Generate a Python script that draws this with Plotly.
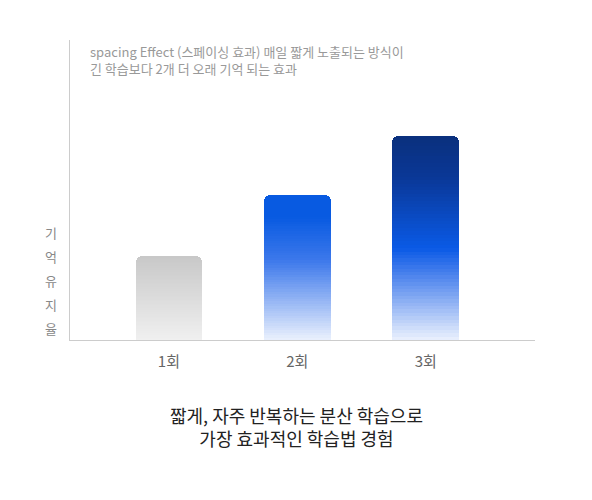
import plotly.graph_objects as go

categories = ["1회", "2회", "3회"]
values = [84, 145, 204]
title_lines = ["spacing Effect (스페이싱 효과) 매일 짧게 노출되는 방식이", "긴 학습보다 2개 더 오래 기억 되는 효과"]
caption_lines = ["짧게, 자주 반복하는 분산 학습으로", "가장 효과적인 학습법 경험"]
ylabel = "기억유지율"

stops = [
    [(0, (240, 240, 240)), (1, (200, 200, 200))],
    [(0, (235, 241, 253)), (0.55, (60, 120, 235)), (0.85, (8, 90, 225)), (1, (8, 90, 225))],
    [(0, (235, 241, 253)), (0.35, (60, 120, 235)), (0.45, (10, 90, 230)), (0.8, (10, 55, 150)), (1, (10, 48, 125))],
]

def col(st, f):
    for (f0, c0), (f1, c1) in zip(st[:-1], st[1:]):
        if f <= f1:
            t = (f - f0) / (f1 - f0) if f1 > f0 else 0
            return "rgb(%d,%d,%d)" % tuple(round(a + (b - a) * t) for a, b in zip(c0, c1))
    return "rgb(%d,%d,%d)" % st[-1][1]

N = 60
fig = go.Figure()
for k in range(N):
    f = (k + 0.5) / N
    fig.add_bar(x=list(range(len(categories))), y=[v / N for v in values],
                width=0.52, marker=dict(color=[col(stops[i], f) for i in range(3)], line=dict(width=0)),
                showlegend=False, hoverinfo="skip")

fig.update_layout(
    barmode="stack", barcornerradius=6, bargap=0,
    width=592, height=500, margin=dict(l=62, r=65, t=32, b=168),
    plot_bgcolor="white", paper_bgcolor="white",
    font=dict(family="Noto Sans CJK KR, Noto Sans", color="#666"),
    xaxis=dict(range=[-0.77, 2.85], tickvals=[0, 1, 2], ticktext=categories,
               showline=True, linecolor="#cccccc", showgrid=False, zeroline=False,
               tickfont=dict(size=15, color="#666"), ticks="", ticklabelstandoff=8),
    yaxis=dict(range=[0, 300], showline=True, linecolor="#cccccc", showgrid=False,
               zeroline=False, showticklabels=False, ticks=""),
)
fig.add_annotation(text="<br>".join(title_lines), xref="paper", yref="paper", x=0.038, y=1.0,
                   xanchor="left", yanchor="top", showarrow=False, align="left",
                   font=dict(size=13, color="#999"))
for i, ch in enumerate(ylabel):
    fig.add_annotation(text=ch, xref="paper", yref="y", x=-0.04, y=(340 - 232 - 24 * i) * 300 / 300,
                       xanchor="center", yanchor="middle", showarrow=False,
                       font=dict(size=13, color="#888"))
fig.add_annotation(text="<br>".join(caption_lines), xref="paper", yref="paper", x=(296 - 70) / 465,
                   y=-0.2, xanchor="center", yanchor="top", showarrow=False, align="center",
                   font=dict(size=18, color="#222"))
fig.write_html("out.html")
